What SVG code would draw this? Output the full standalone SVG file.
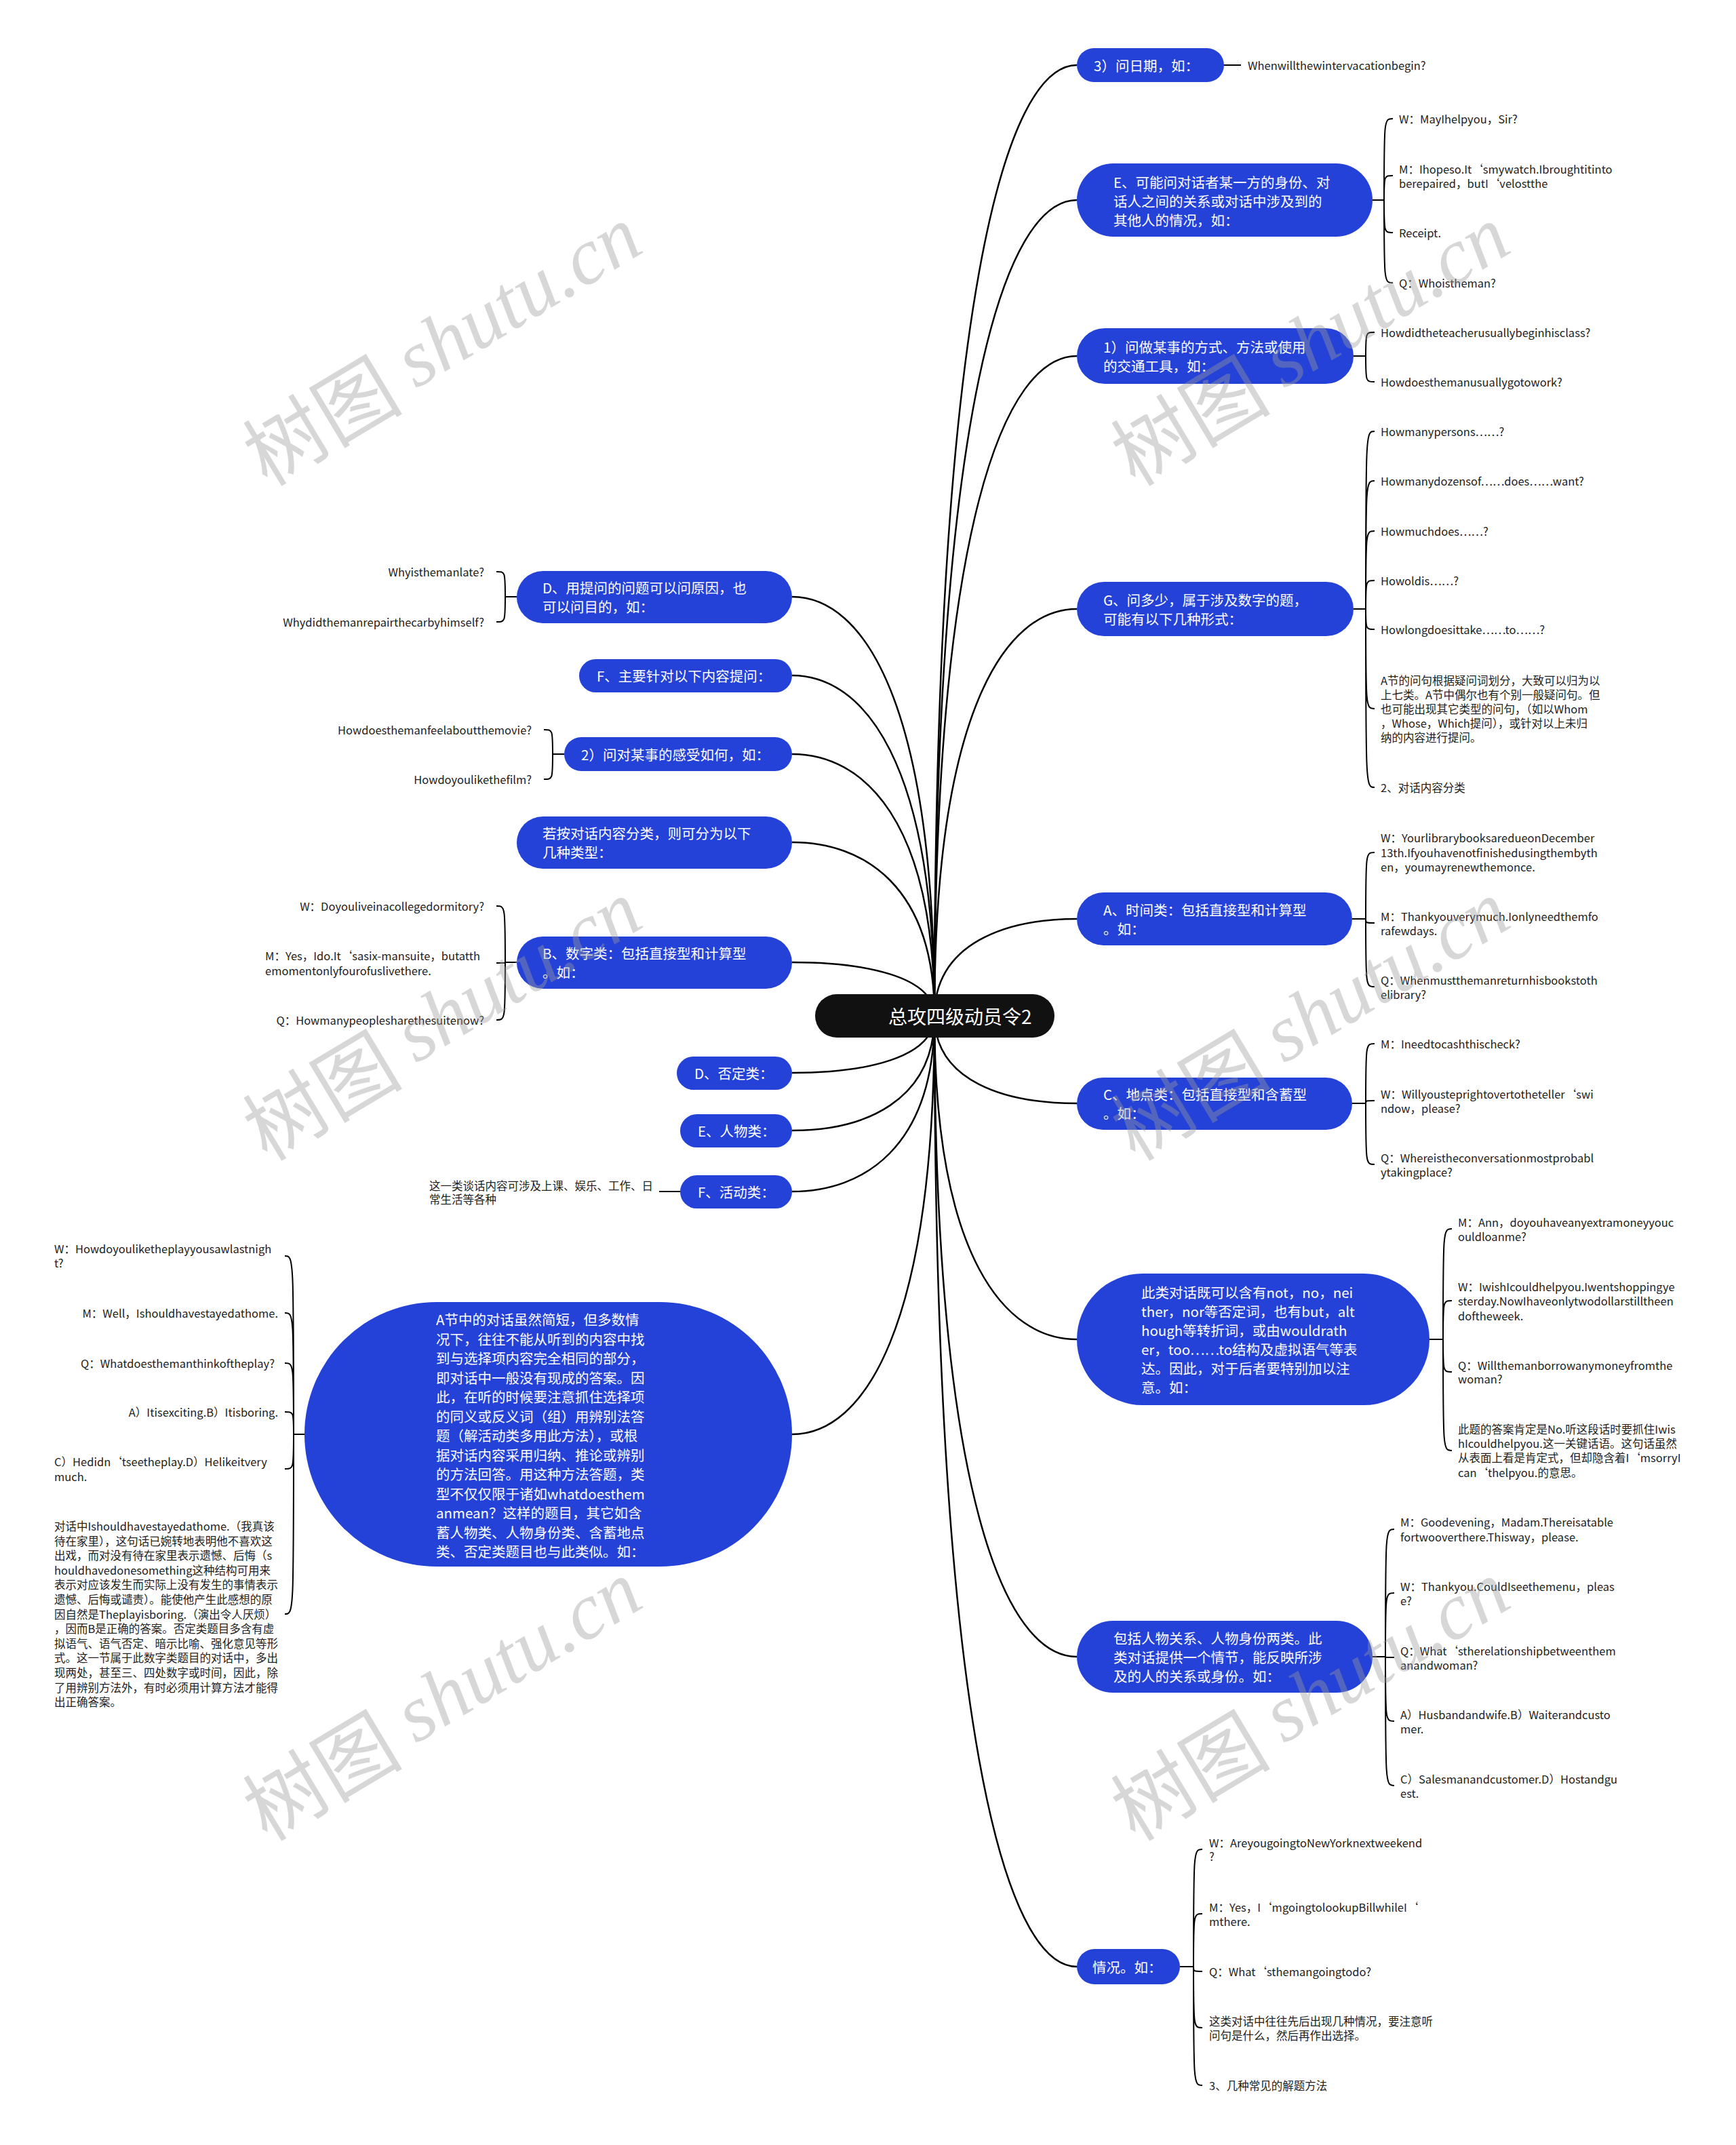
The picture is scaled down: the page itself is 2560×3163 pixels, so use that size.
<svg xmlns="http://www.w3.org/2000/svg" width="2560" height="3163" viewBox="0 0 2560 3163">
<style>
text{font-family:"Noto Sans CJK SC","Noto Sans",sans-serif;dominant-baseline:central}
.n{fill:#2442d8}
.nt{fill:#fff;font-size:20.5px}
.rt{fill:#fff;font-size:28px}
.c{fill:#222;font-size:16.5px}
.e{text-anchor:end}
.l{fill:none;stroke:#000;stroke-width:2.5}
.b{fill:none;stroke:#000;stroke-width:2}
.wm{fill:#9a9a9a;fill-opacity:.4;font-size:118px;text-anchor:middle}
.wms{font-family:"Liberation Serif",serif;font-style:italic}
</style>
<rect width="2560" height="3163" fill="#fff"/>
<g id="connectors">
<path class="l" d="M1378,1498C1378,446 1483,96 1588,96"/>
<path class="l" d="M1378,1498C1378,596 1483,295 1588,295"/>
<path class="l" d="M1378,1498C1378,768 1483,525 1588,525"/>
<path class="l" d="M1378,1498C1378,1048 1483,898 1588,898"/>
<path class="l" d="M1378,1498C1378,1391 1483,1355 1588,1355"/>
<path class="l" d="M1378,1498C1378,1595 1483,1627 1588,1627"/>
<path class="l" d="M1378,1498C1378,1856 1483,1975 1588,1975"/>
<path class="l" d="M1378,1498C1378,2207 1483,2443 1588,2443"/>
<path class="l" d="M1378,1498C1378,2550 1483,2900 1588,2900"/>
<path class="l" d="M1378,1498C1378,1035 1273,880 1168,880"/>
<path class="l" d="M1378,1498C1378,1122 1273,996 1168,996"/>
<path class="l" d="M1378,1498C1378,1209 1273,1112 1168,1112"/>
<path class="l" d="M1378,1498C1378,1306 1273,1242 1168,1242"/>
<path class="l" d="M1378,1498C1378,1439 1273,1419 1168,1419"/>
<path class="l" d="M1378,1498C1378,1561 1273,1582 1168,1582"/>
<path class="l" d="M1378,1498C1378,1625 1273,1667 1168,1667"/>
<path class="l" d="M1378,1498C1378,1692 1273,1757 1168,1757"/>
<path class="l" d="M1378,1498C1378,1961 1273,2115 1168,2115"/>
<path class="b" d="M1805,96H1830" stroke-width="3"/>
<path class="b" d="M2024,295H2041M2041,295C2041,175 2041,175 2054,175M2041,295C2041,259 2041,259 2054,259M2041,295C2041,343 2041,343 2054,343M2041,295C2041,417 2041,417 2054,417"/>
<path class="b" d="M1996,525H2014M2014,525C2014,490 2014,490 2027,490M2014,525C2014,563 2014,563 2027,563"/>
<path class="b" d="M1996,898H2014M2014,898C2014,636 2014,636 2027,636M2014,898C2014,709 2014,709 2027,709M2014,898C2014,783 2014,783 2027,783M2014,898C2014,856 2014,856 2027,856M2014,898C2014,928 2014,928 2027,928M2014,898C2014,1045 2014,1045 2027,1045M2014,898C2014,1161 2014,1161 2027,1161"/>
<path class="b" d="M1994,1355H2014M2014,1355C2014,1257 2014,1257 2027,1257M2014,1355C2014,1361 2014,1361 2027,1361M2014,1355C2014,1455 2014,1455 2027,1455"/>
<path class="b" d="M1994,1627H2014M2014,1627C2014,1539 2014,1539 2027,1539M2014,1627C2014,1623 2014,1623 2027,1623M2014,1627C2014,1717 2014,1717 2027,1717"/>
<path class="b" d="M2108,1975H2128M2128,1975C2128,1812 2128,1812 2141,1812M2128,1975C2128,1918 2128,1918 2141,1918M2128,1975C2128,2023 2128,2023 2141,2023M2128,1975C2128,2139 2128,2139 2141,2139"/>
<path class="b" d="M2024,2443H2043M2043,2443C2043,2255 2043,2255 2056,2255M2043,2443C2043,2349 2043,2349 2056,2349M2043,2443C2043,2444 2043,2444 2056,2444M2043,2443C2043,2538 2043,2538 2056,2538M2043,2443C2043,2633 2043,2633 2056,2633"/>
<path class="b" d="M1740,2900H1760M1760,2900C1760,2727 1760,2727 1773,2727M1760,2900C1760,2822 1760,2822 1773,2822M1760,2900C1760,2907 1760,2907 1773,2907M1760,2900C1760,2990 1760,2990 1773,2990M1760,2900C1760,3075 1760,3075 1773,3075"/>
<path class="b" d="M762,880H745M745,880C745,843 745,843 732,843M745,880C745,917 745,917 732,917"/>
<path class="b" d="M832,1112H815M815,1112C815,1076 815,1076 802,1076M815,1112C815,1149 815,1149 802,1149"/>
<path class="b" d="M762,1419H745M745,1419C745,1336 745,1336 732,1336M745,1419C745,1420 745,1420 732,1420M745,1419C745,1504 745,1504 732,1504"/>
<path class="b" d="M1003,1757H972" stroke-width="3"/>
<path class="b" d="M449,2115H433M433,2115C433,1852 433,1852 420,1852M433,2115C433,1936 433,1936 420,1936M433,2115C433,2010 433,2010 420,2010M433,2115C433,2082 433,2082 420,2082M433,2115C433,2166 433,2166 420,2166M433,2115C433,2380 433,2380 420,2380"/>
</g>
<g id="root"><rect x="1202" y="1466" width="353" height="64" rx="32" fill="#111"/><text class="rt" x="1310" y="1498">总攻四级动员令2</text></g>
<g id="n-r1"><rect class="n" x="1588" y="71" width="217" height="50" rx="25"/><text class="nt" x="1613" y="96">3）问日期，如：</text></g>
<g id="n-r2"><rect class="n" x="1588" y="241" width="436" height="108" rx="54"/><text class="nt"><tspan x="1642" y="268">E、可能问对话者某一方的身份、对</tspan><tspan x="1642" y="296">话人之间的关系或对话中涉及到的</tspan><tspan x="1642" y="324">其他人的情况，如：</tspan></text></g>
<g id="n-r3"><rect class="n" x="1588" y="484" width="408" height="82" rx="41"/><text class="nt"><tspan x="1627" y="511">1）问做某事的方式、方法或使用</tspan><tspan x="1627" y="539">的交通工具，如：</tspan></text></g>
<g id="n-r4"><rect class="n" x="1588" y="858" width="408" height="80" rx="40"/><text class="nt"><tspan x="1627" y="884">G、问多少，属于涉及数字的题，</tspan><tspan x="1627" y="912">可能有以下几种形式：</tspan></text></g>
<g id="n-r5"><rect class="n" x="1588" y="1316" width="406" height="78" rx="39"/><text class="nt"><tspan x="1627" y="1341">A、时间类：包括直接型和计算型</tspan><tspan x="1627" y="1369">。如：</tspan></text></g>
<g id="n-r6"><rect class="n" x="1588" y="1589" width="406" height="77" rx="38.5"/><text class="nt"><tspan x="1627" y="1613">C、地点类：包括直接型和含蓄型</tspan><tspan x="1627" y="1641">。如：</tspan></text></g>
<g id="n-r7"><rect class="n" x="1588" y="1878" width="520" height="194" rx="97"/><text class="nt"><tspan x="1683" y="1905">此类对话既可以含有not，no，nei</tspan><tspan x="1683" y="1933">ther，nor等否定词，也有but，alt</tspan><tspan x="1683" y="1961">hough等转折词，或由wouldrath</tspan><tspan x="1683" y="1989">er，too……to结构及虚拟语气等表</tspan><tspan x="1683" y="2017">达。因此，对于后者要特别加以注</tspan><tspan x="1683" y="2045">意。如：</tspan></text></g>
<g id="n-r8"><rect class="n" x="1588" y="2390" width="436" height="106" rx="53"/><text class="nt"><tspan x="1642" y="2415">包括人物关系、人物身份两类。此</tspan><tspan x="1642" y="2443">类对话提供一个情节，能反映所涉</tspan><tspan x="1642" y="2471">及的人的关系或身份。如：</tspan></text></g>
<g id="n-r9"><rect class="n" x="1588" y="2874" width="152" height="52" rx="26"/><text class="nt" x="1611" y="2900">情况。如：</text></g>
<g id="n-l1"><rect class="n" x="762" y="842" width="406" height="77" rx="38.5"/><text class="nt"><tspan x="800" y="866">D、用提问的问题可以问原因，也</tspan><tspan x="800" y="894">可以问目的，如：</tspan></text></g>
<g id="n-l2"><rect class="n" x="854" y="972" width="314" height="49" rx="24.5"/><text class="nt" x="880" y="996">F、主要针对以下内容提问：</text></g>
<g id="n-l3"><rect class="n" x="832" y="1087" width="336" height="50" rx="25"/><text class="nt" x="857" y="1112">2）问对某事的感受如何，如：</text></g>
<g id="n-l4"><rect class="n" x="762" y="1204" width="406" height="77" rx="38.5"/><text class="nt"><tspan x="800" y="1228">若按对话内容分类，则可分为以下</tspan><tspan x="800" y="1256">几种类型：</tspan></text></g>
<g id="n-l5"><rect class="n" x="762" y="1381" width="406" height="77" rx="38.5"/><text class="nt"><tspan x="800" y="1405">B、数字类：包括直接型和计算型</tspan><tspan x="800" y="1433">。如：</tspan></text></g>
<g id="n-l6"><rect class="n" x="998" y="1558" width="170" height="49" rx="24.5"/><text class="nt" x="1024" y="1582">D、否定类：</text></g>
<g id="n-l7"><rect class="n" x="1003" y="1643" width="165" height="49" rx="24.5"/><text class="nt" x="1029" y="1667">E、人物类：</text></g>
<g id="n-l8"><rect class="n" x="1003" y="1733" width="165" height="49" rx="24.5"/><text class="nt" x="1029" y="1757">F、活动类：</text></g>
<g id="n-l9"><rect class="n" x="449" y="1920" width="719" height="390" rx="195"/><text class="nt"><tspan x="643" y="1945">A节中的对话虽然简短，但多数情</tspan><tspan x="643" y="1973.5">况下，往往不能从听到的内容中找</tspan><tspan x="643" y="2002">到与选择项内容完全相同的部分，</tspan><tspan x="643" y="2030.5">即对话中一般没有现成的答案。因</tspan><tspan x="643" y="2059">此，在听的时候要注意抓住选择项</tspan><tspan x="643" y="2087.5">的同义或反义词（组）用辨别法答</tspan><tspan x="643" y="2116">题（解活动类多用此方法），或根</tspan><tspan x="643" y="2144.5">据对话内容采用归纳、推论或辨别</tspan><tspan x="643" y="2173">的方法回答。用这种方法答题，类</tspan><tspan x="643" y="2201.5">型不仅仅限于诸如whatdoesthem</tspan><tspan x="643" y="2230">anmean？这样的题目，其它如含</tspan><tspan x="643" y="2258.5">蓄人物类、人物身份类、含蓄地点</tspan><tspan x="643" y="2287">类、否定类题目也与此类似。如：</tspan></text></g>
<g id="c-r1"><text class="c" x="1840" y="96">Whenwillthewintervacationbegin?</text></g>
<g id="c-r2a"><text class="c" x="2063" y="175">W：MayIhelpyou，Sir?</text></g>
<g id="c-r2b"><text class="c"><tspan x="2063" y="249">M：Ihopeso.It‘smywatch.Ibroughtitinto</tspan><tspan x="2063" y="270">berepaired，butI‘velostthe</tspan></text></g>
<g id="c-r2c"><text class="c" x="2063" y="343">Receipt.</text></g>
<g id="c-r2d"><text class="c" x="2063" y="417">Q：Whoistheman?</text></g>
<g id="c-r3a"><text class="c" x="2036" y="490">Howdidtheteacherusuallybeginhisclass?</text></g>
<g id="c-r3b"><text class="c" x="2036" y="563">Howdoesthemanusuallygotowork?</text></g>
<g id="c-r4a"><text class="c" x="2036" y="636">Howmanypersons……?</text></g>
<g id="c-r4b"><text class="c" x="2036" y="709">Howmanydozensof……does……want?</text></g>
<g id="c-r4c"><text class="c" x="2036" y="783">Howmuchdoes……?</text></g>
<g id="c-r4d"><text class="c" x="2036" y="856">Howoldis……?</text></g>
<g id="c-r4e"><text class="c" x="2036" y="928">Howlongdoesittake……to……?</text></g>
<g id="c-r4f"><text class="c"><tspan x="2036" y="1003">A节的问句根据疑问词划分，大致可以归为以</tspan><tspan x="2036" y="1024">上七类。A节中偶尔也有个别一般疑问句。但</tspan><tspan x="2036" y="1045">也可能出现其它类型的问句，（如以Whom</tspan><tspan x="2036" y="1066">，Whose，Which提问），或针对以上未归</tspan><tspan x="2036" y="1087">纳的内容进行提问。</tspan></text></g>
<g id="c-r4g"><text class="c" x="2036" y="1161">2、对话内容分类</text></g>
<g id="c-r5a"><text class="c"><tspan x="2036" y="1235">W：YourlibrarybooksaredueonDecember</tspan><tspan x="2036" y="1257">13th.Ifyouhavenotfinishedusingthembyth</tspan><tspan x="2036" y="1278">en，youmayrenewthemonce.</tspan></text></g>
<g id="c-r5b"><text class="c"><tspan x="2036" y="1351">M：Thankyouverymuch.Ionlyneedthemfo</tspan><tspan x="2036" y="1372">rafewdays.</tspan></text></g>
<g id="c-r5c"><text class="c"><tspan x="2036" y="1445">Q：Whenmustthemanreturnhisbookstoth</tspan><tspan x="2036" y="1466">elibrary?</tspan></text></g>
<g id="c-r6a"><text class="c" x="2036" y="1539">M：Ineedtocashthischeck?</text></g>
<g id="c-r6b"><text class="c"><tspan x="2036" y="1613">W：Willyousteprightovertotheteller‘swi</tspan><tspan x="2036" y="1634">ndow，please?</tspan></text></g>
<g id="c-r6c"><text class="c"><tspan x="2036" y="1707">Q：Whereistheconversationmostprobabl</tspan><tspan x="2036" y="1728">ytakingplace?</tspan></text></g>
<g id="c-r7a"><text class="c"><tspan x="2150" y="1802">M：Ann，doyouhaveanyextramoneyyouc</tspan><tspan x="2150" y="1823">ouldloanme?</tspan></text></g>
<g id="c-r7b"><text class="c"><tspan x="2150" y="1897">W：IwishIcouldhelpyou.Iwentshoppingye</tspan><tspan x="2150" y="1918">sterday.NowIhaveonlytwodollarstilltheen</tspan><tspan x="2150" y="1940">doftheweek.</tspan></text></g>
<g id="c-r7c"><text class="c"><tspan x="2150" y="2013">Q：Willthemanborrowanymoneyfromthe</tspan><tspan x="2150" y="2033">woman?</tspan></text></g>
<g id="c-r7d"><text class="c"><tspan x="2150" y="2107">此题的答案肯定是No.听这段话时要抓住Iwis</tspan><tspan x="2150" y="2128">hIcouldhelpyou.这一关键话语。这句话虽然</tspan><tspan x="2150" y="2149">从表面上看是肯定式，但却隐含着I‘msorryI</tspan><tspan x="2150" y="2171">can‘thelpyou.的意思。</tspan></text></g>
<g id="c-r8a"><text class="c"><tspan x="2065" y="2244">M：Goodevening，Madam.Thereisatable</tspan><tspan x="2065" y="2266">fortwooverthere.Thisway，please.</tspan></text></g>
<g id="c-r8b"><text class="c"><tspan x="2065" y="2339">W：Thankyou.CouldIseethemenu，pleas</tspan><tspan x="2065" y="2360">e?</tspan></text></g>
<g id="c-r8c"><text class="c"><tspan x="2065" y="2434">Q：What‘stherelationshipbetweenthem</tspan><tspan x="2065" y="2455">anandwoman?</tspan></text></g>
<g id="c-r8d"><text class="c"><tspan x="2065" y="2528">A）Husbandandwife.B）Waiterandcusto</tspan><tspan x="2065" y="2549">mer.</tspan></text></g>
<g id="c-r8e"><text class="c"><tspan x="2065" y="2623">C）Salesmanandcustomer.D）Hostandgu</tspan><tspan x="2065" y="2644">est.</tspan></text></g>
<g id="c-r9a"><text class="c"><tspan x="1783" y="2717">W：AreyougoingtoNewYorknextweekend</tspan><tspan x="1783" y="2737">?</tspan></text></g>
<g id="c-r9b"><text class="c"><tspan x="1783" y="2812">M：Yes，I‘mgoingtolookupBillwhileI‘</tspan><tspan x="1783" y="2833">mthere.</tspan></text></g>
<g id="c-r9c"><text class="c" x="1783" y="2907">Q：What‘sthemangoingtodo?</text></g>
<g id="c-r9d"><text class="c"><tspan x="1783" y="2980">这类对话中往往先后出现几种情况，要注意听</tspan><tspan x="1783" y="3001">问句是什么，然后再作出选择。</tspan></text></g>
<g id="c-r9e"><text class="c" x="1783" y="3075">3、几种常见的解题方法</text></g>
<g id="c-l1a"><text class="c e" x="714" y="843">Whyisthemanlate?</text></g>
<g id="c-l1b"><text class="c e" x="714" y="917">Whydidthemanrepairthecarbyhimself?</text></g>
<g id="c-l3a"><text class="c e" x="784" y="1076">Howdoesthemanfeelaboutthemovie?</text></g>
<g id="c-l3b"><text class="c e" x="784" y="1149">Howdoyoulikethefilm?</text></g>
<g id="c-l5a"><text class="c e" x="714" y="1336">W：Doyouliveinacollegedormitory?</text></g>
<g id="c-l5b"><text class="c"><tspan x="391" y="1409">M：Yes，Ido.It‘sasix-mansuite，butatth</tspan><tspan x="391" y="1431">emomentonlyfourofuslivethere.</tspan></text></g>
<g id="c-l5c"><text class="c e" x="714" y="1504">Q：Howmanypeoplesharethesuitenow?</text></g>
<g id="c-l8a"><text class="c"><tspan x="633" y="1748">这一类谈话内容可涉及上课、娱乐、工作、日</tspan><tspan x="633" y="1768">常生活等各种</tspan></text></g>
<g id="c-l9a"><text class="c"><tspan x="80" y="1841">W：Howdoyouliketheplayyousawlastnigh</tspan><tspan x="80" y="1862">t?</tspan></text></g>
<g id="c-l9b"><text class="c e" x="410" y="1936">M：Well，Ishouldhavestayedathome.</text></g>
<g id="c-l9c"><text class="c e" x="405" y="2010">Q：Whatdoesthemanthinkoftheplay?</text></g>
<g id="c-l9d"><text class="c e" x="410" y="2082">A）Itisexciting.B）Itisboring.</text></g>
<g id="c-l9e"><text class="c"><tspan x="80" y="2155">C）Hedidn‘tseetheplay.D）Helikeitvery</tspan><tspan x="80" y="2177">much.</tspan></text></g>
<g id="c-l9f"><text class="c"><tspan x="80" y="2250">对话中Ishouldhavestayedathome.（我真该</tspan><tspan x="80" y="2271.6">待在家里），这句话已婉转地表明他不喜欢这</tspan><tspan x="80" y="2293.2">出戏，而对没有待在家里表示遗憾、后悔（s</tspan><tspan x="80" y="2314.8">houldhavedonesomething这种结构可用来</tspan><tspan x="80" y="2336.4">表示对应该发生而实际上没有发生的事情表示</tspan><tspan x="80" y="2358">遗憾、后悔或谴责）。能使他产生此感想的原</tspan><tspan x="80" y="2379.6">因自然是Theplayisboring.（演出令人厌烦）</tspan><tspan x="80" y="2401.2">，因而B是正确的答案。否定类题目多含有虚</tspan><tspan x="80" y="2422.8">拟语气、语气否定、暗示比喻、强化意见等形</tspan><tspan x="80" y="2444.4">式。这一节属于此数字类题目的对话中，多出</tspan><tspan x="80" y="2466">现两处，甚至三、四处数字或时间，因此，除</tspan><tspan x="80" y="2487.6">了用辨别方法外，有时必须用计算方法才能得</tspan><tspan x="80" y="2509.2">出正确答案。</tspan></text></g>
<g id="watermarks">
<text class="wm" transform="translate(650,505) rotate(-31)">树图 <tspan class="wms">shutu.cn</tspan></text>
<text class="wm" transform="translate(1930,505) rotate(-31)">树图 <tspan class="wms">shutu.cn</tspan></text>
<text class="wm" transform="translate(650,1500) rotate(-31)">树图 <tspan class="wms">shutu.cn</tspan></text>
<text class="wm" transform="translate(1930,1500) rotate(-31)">树图 <tspan class="wms">shutu.cn</tspan></text>
<text class="wm" transform="translate(650,2503) rotate(-31)">树图 <tspan class="wms">shutu.cn</tspan></text>
<text class="wm" transform="translate(1930,2503) rotate(-31)">树图 <tspan class="wms">shutu.cn</tspan></text>
</g>
</svg>
